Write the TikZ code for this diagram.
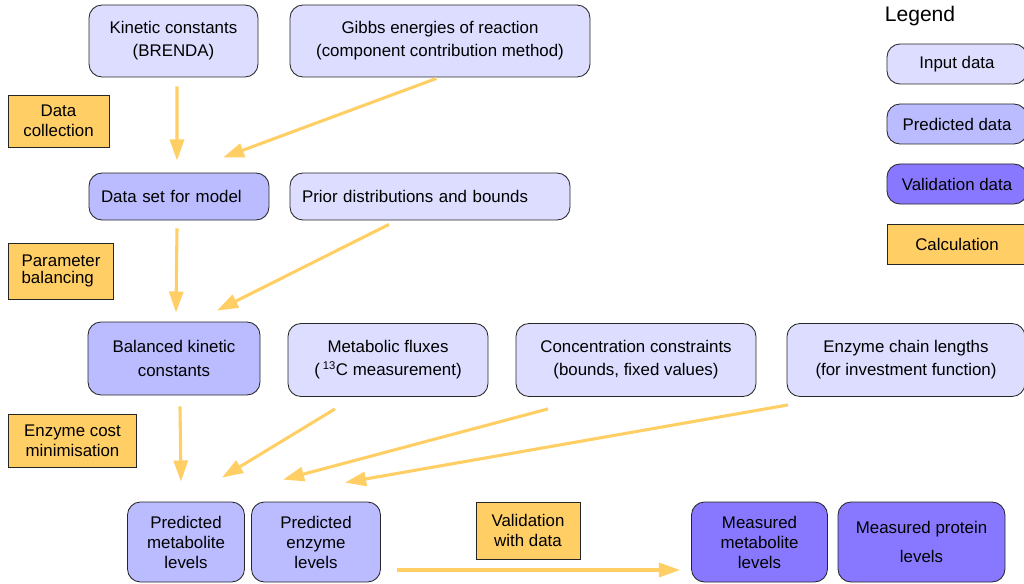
\documentclass[tikz,border=0pt]{standalone}
\usepackage{fontspec}
\setmainfont{Liberation Sans}
\usetikzlibrary{arrows.meta}

\definecolor{inputcol}{RGB}{221,221,255}
\definecolor{predcol}{RGB}{187,187,255}
\definecolor{valcol}{RGB}{136,120,255}
\definecolor{calccol}{RGB}{255,207,102}
\newlength\pxu
\setlength\pxu{0.025cm}

\begin{document}
\begin{tikzpicture}[x=0.025cm, y=-0.025cm,
	box/.style={draw=black!85, line width=0.6pt, rounded corners=13\pxu, align=center,
		inner sep=0pt, font=\fontsize{12}{16.5}\selectfont},
	inbox/.style={box, fill=inputcol},
	predbox/.style={box, fill=predcol},
	valbox/.style={box, fill=valcol},
	calcbox/.style={draw=black!85, line width=0.6pt, fill=calccol, align=center,
		inner sep=0pt, font=\fontsize{12}{14.2}\selectfont},
	threeline/.style={font=\fontsize{12}{14.2}\selectfont},
	flow/.style={draw=calccol, line width=2.2pt, -{Triangle[length=15pt,width=10pt]}},
	]
	\useasboundingbox (0,0) rectangle (1024,584);

	% input and intermediate data
	\node[inbox, minimum width=169\pxu, minimum height=72\pxu] (kinetic) at (173.5,41) {Kinetic constants\\(BRENDA)};
	\node[inbox, minimum width=300\pxu, minimum height=72\pxu] (gibbs) at (440,41) {Gibbs energies of reaction\\(component contribution method)};
	\node[predbox, minimum width=180\pxu, minimum height=47\pxu, text width=156\pxu, inner xsep=12\pxu, align=left] (dataset) at (179,196.5) {Data set for model};
	\node[inbox, minimum width=280\pxu, minimum height=47\pxu, text width=256\pxu, inner xsep=12\pxu, align=left] (prior) at (430,196.5) {Prior distributions and bounds};
	\node[predbox, minimum width=172\pxu, minimum height=73\pxu] (balanced) at (174,358.5) {Balanced kinetic\\constants};
	\node[inbox, minimum width=200\pxu, minimum height=73\pxu] (fluxes) at (388,360) {Metabolic fluxes\\(\,\textsuperscript{13}C measurement)};
	\node[inbox, minimum width=240\pxu, minimum height=73\pxu] (conc) at (636,360) {Concentration constraints\\(bounds, fixed values)};
	\node[inbox, minimum width=238\pxu, minimum height=73\pxu] (chain) at (906,360) {Enzyme chain lengths\\(for investment function)};
	\node[predbox, threeline, minimum width=117\pxu, minimum height=80\pxu] (predmet) at (186,542) {Predicted\\metabolite\\levels};
	\node[predbox, threeline, minimum width=129\pxu, minimum height=80\pxu] (predenz) at (316,542) {Predicted\\enzyme\\levels};
	\node[valbox, threeline, minimum width=136\pxu, minimum height=80\pxu] (measmet) at (759.5,542) {Measured\\metabolite\\levels};
	\node[valbox, font=\fontsize{12}{20}\selectfont, minimum width=167\pxu, minimum height=80\pxu] (measprot) at (921.5,542) {Measured protein\\levels};

	% calculation steps
	\node[calcbox, minimum width=101\pxu, minimum height=52\pxu] (collect) at (58.5,121) {Data\\collection};
	\node[calcbox, font=\fontsize{12}{12.2}\selectfont, minimum width=105\pxu, minimum height=56\pxu, align=left] (balancing) at (61,271) {Parameter\\balancing};
	\node[calcbox, minimum width=128\pxu, minimum height=53\pxu] (mincost) at (72.5,440.5) {Enzyme cost\\minimisation};
	\node[calcbox, minimum width=104\pxu, minimum height=57\pxu] (validate) at (528,530.5) {Validation\\with data};

	% flows
	\draw[flow] ([shift={(3.5,9)}]kinetic.south) -- ([shift={(-2,-12)}]dataset.north);
	\draw[flow] ([shift={(-3.5,1)}]gibbs.south) -- ([shift={(44,-15)}]dataset.north);
	\draw[flow] ([shift={(-2,8)}]dataset.south) -- ([shift={(2,-9)}]balanced.north);
	\draw[flow] ([shift={(-41,4)}]prior.south) -- ([shift={(43,-11)}]balanced.north);
	\draw[flow] ([shift={(6,11)}]balanced.south) -- ([shift={(-5,-20)}]predmet.north);
	\draw[flow] ([shift={(-53,12)}]fluxes.south) -- ([shift={(36,-24)}]predmet.north);
	\draw[flow] ([shift={(-88,12)}]conc.south) -- ([shift={(-33,-22)}]predenz.north);
	\draw[flow] ([shift={(-118,8)}]chain.south) -- ([shift={(29,-19)}]predenz.north);
	\draw[flow] ([shift={(16,28)}]predenz.east) -- ([shift={(-11,28)}]measmet.west);

	% legend
	\node[font=\fontsize{15}{18}\selectfont] (legend) at (920,16) {Legend};
	\node[inbox, minimum width=140\pxu, minimum height=40\pxu] (leginput) at (957,64) {Input data};
	\node[predbox, minimum width=140\pxu, minimum height=40\pxu] (legpred) at (957,124) {Predicted data};
	\node[valbox, minimum width=140\pxu, minimum height=40\pxu] (legval) at (957,184) {Validation data};
	\node[calcbox, minimum width=140\pxu, minimum height=40\pxu] (legcalc) at (957,244) {Calculation};
\end{tikzpicture}
\end{document}
